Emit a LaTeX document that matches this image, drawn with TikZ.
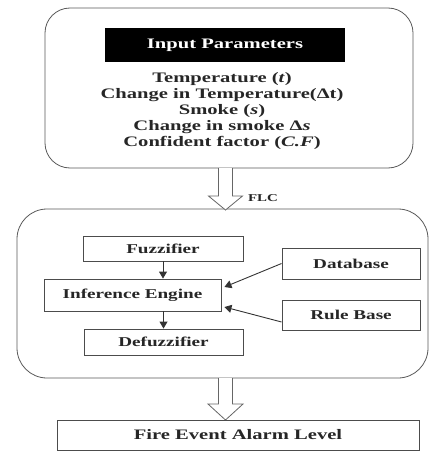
\documentclass[tikz,border=0pt]{standalone}
\usepackage{fontspec}
\setmainfont{Liberation Serif}[FakeStretch=1.42]
\usetikzlibrary{arrows.meta,calc}
\begin{document}
\begin{tikzpicture}[x=1pt,y=-1pt,
  rbox/.style={draw=black!65, line width=0.8pt, rounded corners=#1, inner sep=0pt},
  blk/.style={draw=black!70, line width=0.9pt, fill=white, text=black!85, inner sep=0pt,
    font=\bfseries\fontsize{13.5}{15}\selectfont},
  hollow/.style={draw=black!60, line width=0.8pt, fill=white, line join=miter},
  conn/.style={draw=black!80, line width=0.9pt, -{Triangle[length=7pt,width=8pt]}},
  txt/.style={text=black!85, font=\bfseries\fontsize{14.5}{16}\selectfont, inner sep=0pt}]
\useasboundingbox (0,0) rectangle (431,452);
% top box
\node[rbox=25, minimum width=368pt, minimum height=160pt] (inp) at (229,88) {};
\node[fill=black, text=white, minimum width=240pt, minimum height=34pt, inner sep=0pt,
  font=\bfseries\fontsize{14.5}{16}\selectfont] (hdr) at (225,45) {Input Parameters};
\node[txt, align=center] (par) at (222,111) {Temperature (\textit{t})\\
  Change in Temperature(Δt)\\ Smoke (\textit{s})\\ Change in smoke Δ\textit{s}\\
  Confident factor (\textit{C.F})};
% FLC box
\node[rbox=30, minimum width=411pt, minimum height=169pt] (flc) at (222.5,293.5) {};
\node[text=black!85, inner sep=0pt, font=\bfseries\fontsize{10.5}{12}\selectfont] (flclbl) at (263,198) {FLC};
% hollow arrow 1
\draw[hollow] (218.5,168) -- (218.5,196) -- (208.5,196) -- (225.5,210) -- (242.5,196)
  -- (232.5,196) -- (232.5,168);
% inner boxes
\node[blk, minimum width=160pt, minimum height=25pt] (fuz) at (163,248.5) {Fuzzifier};
\node[blk, minimum width=177pt, minimum height=32pt] (inf) at (132.5,295) {Inference Engine};
\node[blk, minimum width=159pt, minimum height=26pt] (def) at (163.5,342) {Defuzzifier};
\node[blk, minimum width=138pt, minimum height=31pt] (db) at (351,263.5) {Database};
\node[blk, minimum width=138pt, minimum height=30pt] (rb) at (351,315) {Rule Base};
% connectors
\draw[conn] (fuz.south) -- (fuz.south |- inf.north);
\draw[conn] (inf.south -| def.north) -- (def.north);
\draw[conn] (db.west) -- ($(inf.east)+(3,-8)$);
\draw[conn] ($(rb.west)+(0,7)$) -- ($(inf.east)+(3,12)$);
% hollow arrow 2
\draw[hollow] (218.5,378) -- (218.5,404) -- (208,404) -- (225.5,420) -- (243,404)
  -- (232.5,404) -- (232.5,378);
% output
\node[blk, minimum width=362pt, minimum height=30pt, font=\bfseries\fontsize{14.5}{16}\selectfont] (fire) at (238,435) {Fire Event Alarm Level};
\end{tikzpicture}
\end{document}
